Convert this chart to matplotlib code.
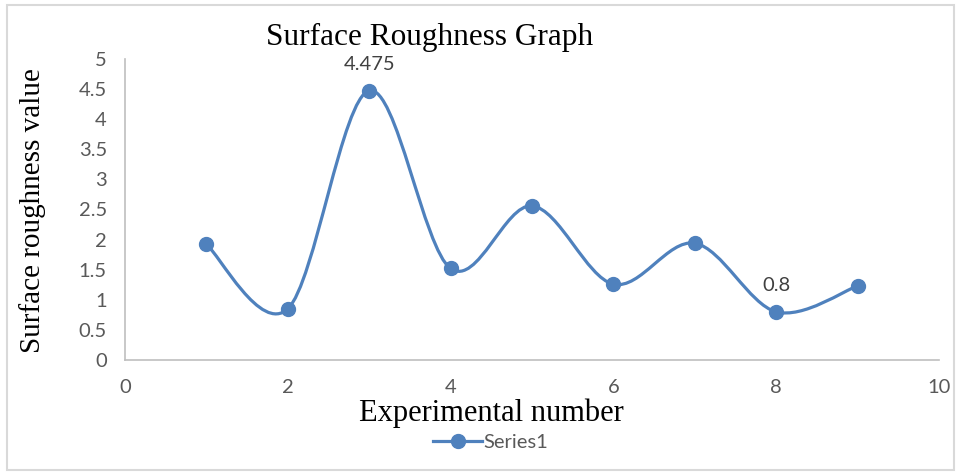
import numpy as np
import matplotlib.pyplot as plt
from matplotlib.path import Path
from matplotlib.patches import PathPatch, Rectangle
from matplotlib.lines import Line2D

experiment = [1, 2, 3, 4, 5, 6, 7, 8, 9]
roughness = [1.92, 0.85, 4.475, 1.52, 2.56, 1.26, 1.94, 0.80, 1.23]
labelled = {3: "4.475", 8: "0.8"}

blue = "#4F81BD"
grey = "#595959"
serif = "Liberation Serif"
sans = "Lato"

fig = plt.figure(figsize=(9.59, 4.72), dpi=100)
fig.patches.append(Rectangle((7 / 959, 2 / 472), 947 / 959, 465 / 472,
                             transform=fig.transFigure, fill=False,
                             edgecolor="#D9D9D9", linewidth=1.5))
ax = fig.add_axes([125 / 959, 1 - 360 / 472, 814 / 959, 301 / 472])

# smoothed line like Excel (cardinal bezier)
x = np.array(experiment, dtype=float)
y = np.array(roughness, dtype=float)
pts = np.column_stack([x, y])
verts = [pts[0]]
codes = [Path.MOVETO]
n = len(pts)
for i in range(n - 1):
    p0 = pts[max(i - 1, 0)]
    p1 = pts[i]
    p2 = pts[i + 1]
    p3 = pts[min(i + 2, n - 1)]
    c1 = p1 + (p2 - p0) / 6
    c2 = p2 - (p3 - p1) / 6
    verts += [c1, c2, p2]
    codes += [Path.CURVE4] * 3
ax.add_patch(PathPatch(Path(verts, codes), fill=False, edgecolor=blue,
                       linewidth=2.3, capstyle="round"))
ax.plot(x, y, linestyle="none", marker="o", markersize=10, color=blue, zorder=3)

for xi, txt in labelled.items():
    ax.annotate(txt, (xi, roughness[xi - 1]), xytext=(0, 13),
                textcoords="offset points", ha="center", va="bottom",
                fontsize=14.5, color="#404040", family=sans)

ax.set_xlim(0, 10)
ax.set_ylim(0, 5)
ax.set_xticks([0, 2, 4, 6, 8, 10])
ax.set_yticks(np.arange(0, 5.01, 0.5))
ax.set_yticklabels(["0", "0.5", "1", "1.5", "2", "2.5", "3", "3.5", "4", "4.5", "5"])
for s in ["top", "right"]:
    ax.spines[s].set_visible(False)
for s in ["left", "bottom"]:
    ax.spines[s].set_color("#BFBFBF")
    ax.spines[s].set_linewidth(1.2)
ax.tick_params(length=0, labelsize=14.5, colors=grey)
ax.tick_params(axis="x", pad=14)
ax.tick_params(axis="y", pad=13)
for lab in ax.get_xticklabels() + ax.get_yticklabels():
    lab.set_family(sans)

fig.text(430 / 959, 1 - 37 / 472, "Surface Roughness Graph", ha="center",
         va="center", fontsize=22.5, family=serif, color="black")
fig.text(33 / 959, 1 - 211 / 472, "Surface roughness value", ha="center",
         va="center", rotation=90, fontsize=21, family=serif, color="black")
fig.text(491 / 959, 1 - 413 / 472, "Experimental number", ha="center",
         va="center", fontsize=22, family=serif, color="black")

handle = Line2D([], [], color=blue, linewidth=2.3, marker="o", markersize=10)
fig.legend([handle], ["Series1"], loc="center", bbox_to_anchor=(491 / 959, 1 - 442 / 472),
           frameon=False, prop={"family": sans, "size": 14.5}, labelcolor=grey,
           handlelength=2.4, handletextpad=0.1, borderpad=0)

fig.savefig("out.png", dpi=100)
